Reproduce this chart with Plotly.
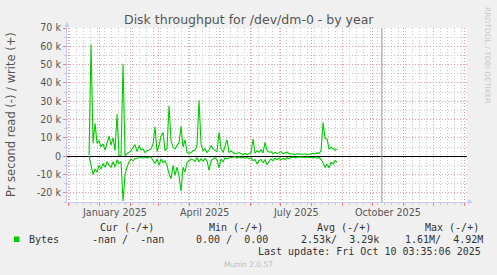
import pandas as pd
import plotly.graph_objects as go

# ---- data (values in bytes/s, read shown negative) ----
start_date = "2024-12-21 08:00"
step = "2D"
write_k = [0.5, 61, 7, 18, 7, 8.5, 5, 6.7, 3.4, 7.6,
           11, 6, 10, 3, 23, 0.4, 0.5, 50.5, 0.3, 1.5,
           2, 3, 5, 6.3, 2.5, 5.8, 3.4, 4, 2, 3,
           3.4, 4, 6.7, 16, 2.5, 5.8, 11, 13, 3, 4.5,
           27.5, 8.5, 5, 4, 5.8, 7.6, 16.3, 5, 9, 2,
           1.6, 2, 3, 3.4, 5.8, 30.6, 6.7, 3, 4, 2,
           3.4, 5.8, 4, 3.4, 2.5, 13, 4, 2, 5.8, 9,
           2, 3, 2, 1.3, 1.6, 2, 1.3, 0.9, 1.6, 0.9,
           1.3, 2, 9.4, 1.6, 3, 2.2, 3.6, 1.8, 7.6, 3,
           2.2, 2.5, 1.3, 2.2, 1.4, 2.2, 2.5, 1.3, 1.8, 2.2,
           1.4, 1.1, 1.3, 0.9, 1.3, 1.1, 0.9, 1.1, 1.3, 0.9,
           1.1, 1.3, 1.6, 1.3, 1.8, 1.6, 3, 18.5, 9.8, 9.4,
           4, 4.9, 4.3, 3.4, 4]
read_k = [0, -6, -10, -7, -8.7, -5, -7, -4, -6, -3,
          -5, -6, -3, -6, -2, -4, -3, -24.5, -10, -6,
          -3, -1.5, -2.5, -1.2, -1, -1.2, -0.7, -1, -0.7, -0.9,
          -0.5, -0.6, -2.5, -4, -1.5, -5, -1.5, -3.5, -2.5, -5,
          -9.6, -12.3, -5, -10.5, -6, -11, -19, -6, -8.7, -3.4,
          -2.5, -1.5, -2, -3, -0.8, -3, -1.5, -2.7, -1.2, -2.5,
          -7.8, -2.5, -1.5, -0.8, -2, -6.3, -1.5, -3, -0.8, -1.5,
          -1, -0.8, -0.9, -0.3, -1, -0.4, -0.9, -0.5, -1.2, -0.6,
          -1.5, -1, -2.4, -1.8, -4.2, -2.4, -1.8, -3.6, -1.8, -4.7,
          -2.9, -1.4, -2.4, -1.1, -1.8, -1.1, -2, -1.1, -1.8, -0.7,
          -1.4, -0.7, -0.5, -0.9, -0.5, -0.7, -0.5, -0.4, -0.7, -0.4,
          -0.5, -0.4, -0.9, -0.5, -1.1, -0.7, -1.8, -3.6, -6.2, -4.2,
          -6.5, -3.3, -4.2, -2.4, -3.3]

y_label_alias = {"70k": "70 k", "60k": "60 k", "50k": "50 k", "40k": "40 k", "30k": "30 k",
                 "20k": "20 k", "10k": "10 k", "−10k": "-10 k", "−20k": "-20 k"}
x_label_dates = ["2025-01-16", "2025-04-16", "2025-07-16", "2025-10-16"]
x_label_text = ["January 2025", "April 2025", "July 2025", "October 2025"]
x_range = ["2024-11-29 07:00", "2026-01-03 07:00"]
y_range = [-25000, 70000]
now_time = "2025-10-10 03:35:06"

title = "Disk throughput for /dev/dm-0 - by year"
y_title = "Pr second read (-) / write (+)"
legend_header = ["Cur (-/+)", "Min (-/+)", "Avg (-/+)", "Max (-/+)"]
legend_name = "Bytes"
legend_values = ["-nan /  -nan", "0.00 /  0.00", "2.53k/  3.29k", "1.61M/  4.92M"]
last_update = "Last update: Fri Oct 10 03:35:06 2025"
footer = "Munin 2.0.57"
side_text = "RRDTOOL / TOBI OETIKER"

dates = pd.date_range(start=start_date, periods=len(write_k), freq=step)
write = [v * 1000 for v in write_k]
read = [v * 1000 for v in read_k]

# ---- geometry ----
W, H = 497, 275
L, R, T, B = 67, 30, 28, 73
PW, PH = W - L - R, H - T - B


def fx(px):
    return (px - L) / PW


def fy(py):
    return (H - B - py) / PH


GREEN = "#00CC00"
MAJOR = "#EE9A9A"
MINOR = "#C8C8C8"
AXIS = "#C4CCF4"
TXT = "#555555"
DOTS = "1px,2px"

fig = go.Figure()
fig.add_trace(go.Scatter(x=dates, y=read, mode="lines",
                         line=dict(color=GREEN, width=1.1), showlegend=False, hoverinfo="skip"))
fig.add_trace(go.Scatter(x=dates, y=write, mode="lines",
                         line=dict(color=GREEN, width=1.1), showlegend=False, hoverinfo="skip"))

font_sans = "DejaVu Sans"
font_mono = "DejaVu Sans Mono"

fig.update_layout(
    width=W, height=H,
    margin=dict(l=L, r=R, t=T, b=B, pad=0),
    paper_bgcolor="#F0F0F0",
    plot_bgcolor="#FFFFFF",
    showlegend=False,
    xaxis=dict(
        type="date", range=x_range,
        dtick="M1", tick0="2024-12-01",
        showgrid=True, gridcolor=MAJOR, griddash=DOTS, gridwidth=1,
        showticklabels=False,
        ticks="outside", ticklen=3, tickcolor="#F08080",
        minor=dict(dtick=7 * 86400000, tick0="2024-12-02", showgrid=True,
                   gridcolor=MINOR, griddash=DOTS, gridwidth=1, ticks="outside", ticklen=2,
                   tickcolor="#C8C8C8"),
        showline=True, linecolor=AXIS, linewidth=1,
        zeroline=False,
    ),
    yaxis=dict(
        range=y_range, tickmode="linear", tick0=0, dtick=10000,
        tickformat="~s", labelalias=y_label_alias,
        showgrid=True, gridcolor=MAJOR, griddash=DOTS, gridwidth=1,
        minor=dict(dtick=5000, tick0=0, showgrid=True, gridcolor=MINOR, gridwidth=1,
                   griddash=DOTS, ticks="outside", ticklen=2, tickcolor="#C8C8C8"),
        ticks="outside", ticklen=3, tickcolor="#F08080",
        tickfont=dict(family=font_sans, size=9.6, color=TXT),
        showline=True, linecolor=AXIS, linewidth=1,
        zeroline=True, zerolinecolor="#000000", zerolinewidth=1,
    ),
)

# "now" rule
fig.add_shape(type="line", xref="x", yref="paper", x0=now_time, x1=now_time, y0=0, y1=1,
              line=dict(color="#909090", width=1))

ann = []
# x labels (centered within their month)
for d, t in zip(x_label_dates, x_label_text):
    ann.append(dict(x=d, xref="x", y=fy(212.3), text=t, xanchor="center", yanchor="middle",
                    font=dict(family=font_sans, size=9.6, color=TXT)))
# title
ann.append(dict(x=fx(248.5), y=fy(19.5), text=title, xanchor="center", yanchor="middle",
                font=dict(family=font_sans, size=12.5, color=TXT)))
# y title
ann.append(dict(x=fx(11), y=0.5, text=y_title, textangle=-90, xanchor="center", yanchor="middle",
                font=dict(family=font_sans, size=11.5, color=TXT)))
# side text
ann.append(dict(x=fx(487.5), y=fy(5), text=side_text, textangle=90, xanchor="center", yanchor="top",
                font=dict(family=font_sans, size=7.5, color="#C8C8C8")))
# legend header
for txt, px in zip(legend_header, [98.3, 206.7, 315, 422.7]):
    ann.append(dict(x=fx(px), y=fy(227.7), text=txt.replace(" ", "&nbsp;"), xanchor="left", yanchor="middle",
                    font=dict(family=font_mono, size=10, color="#333333")))
ann.append(dict(x=fx(26.7), y=fy(239.3), text=legend_name, xanchor="left", yanchor="middle",
                font=dict(family=font_mono, size=10, color="#333333")))
for txt, px in zip(legend_values, [90, 194.3, 299.3, 403.3]):
    ann.append(dict(x=fx(px), y=fy(239.3), text=txt.replace(" ", "&nbsp;"), xanchor="left", yanchor="middle",
                    font=dict(family=font_mono, size=10, color="#333333")))
ann.append(dict(x=fx(482.5), y=fy(251.7), text=last_update.replace(" ", "&nbsp;"), xanchor="right", yanchor="middle",
                font=dict(family=font_mono, size=10, color="#333333")))
ann.append(dict(x=fx(248.5), y=fy(264.3), text=footer, xanchor="center", yanchor="middle",
                font=dict(family=font_sans, size=7.5, color="#BBBBBB")))
# axis arrows
ann.append(dict(x=fx(67), y=fy(22), ax=0, ay=7, text="", showarrow=True, arrowhead=2, arrowsize=1,
                arrowwidth=1, arrowcolor=AXIS, axref="pixel", ayref="pixel"))
ann.append(dict(x=fx(473), y=fy(202), ax=-7, ay=0, text="", showarrow=True, arrowhead=2, arrowsize=1,
                arrowwidth=1, arrowcolor=AXIS, axref="pixel", ayref="pixel"))
for a in ann:
    a.setdefault("xref", "paper")
    a.setdefault("yref", "paper")
    a.setdefault("showarrow", False)
fig.update_layout(annotations=ann)

# legend swatch
fig.add_shape(type="rect", xref="paper", yref="paper",
              x0=fx(14), x1=fx(19.5), y0=fy(242), y1=fy(236.5),
              fillcolor=GREEN, line=dict(width=0))

fig.write_html("out.html")
